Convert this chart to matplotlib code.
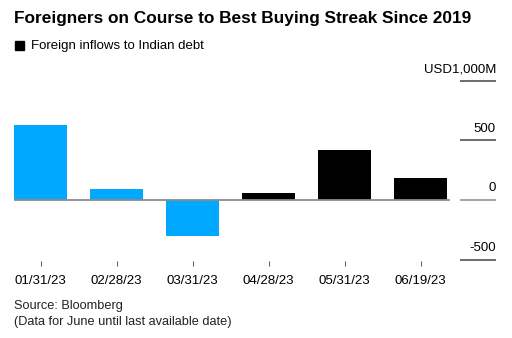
import matplotlib
matplotlib.use("Agg")
import matplotlib.pyplot as plt
from matplotlib.patches import Rectangle

dates = ["01/31/23", "02/28/23", "03/31/23", "04/28/23", "05/31/23", "06/19/23"]
inflows = [630, 92, -303, 56, 418, 182]
bar_colors = ["#00a8ff", "#00a8ff", "#00a8ff", "#000000", "#000000", "#000000"]
yticks = [1000, 500, 0, -500]
ytick_labels = ["USD1,000M", "500", "0", "-500"]

plt.rcParams["font.family"] = ["Liberation Sans", "DejaVu Sans"]

W, H = 512, 338
fig = plt.figure(figsize=(W / 100, H / 100), dpi=100)

# axes placed in pixel terms: left 14, right 496, top 60, bottom 261
left, right, top, bottom = 14, 496, 60, 261
ax = fig.add_axes([left / W, 1 - bottom / H, (right - left) / W, (bottom - top) / H])

px_per_unit = 59.5 / 500
ax.set_ylim(-(bottom - 200) / px_per_unit, (200 - top) / px_per_unit)
ax.set_xlim(-0.35, 5.99)

x = range(len(dates))
ax.bar(x, inflows, width=0.7, color=bar_colors, zorder=2)

# zero line across the plot area
ax.plot([-0.35, 5.39], [0, 0], color="#8c8c8c", lw=1.3, zorder=3, solid_capstyle="butt")

# short gridline segments on the right with labels above them
for v, lab in zip(yticks, ytick_labels):
    c = "#8c8c8c" if v == 0 else "#444444"
    ax.plot([5.52, 5.99], [v, v], color=c, lw=1.1, zorder=3, clip_on=False,
            solid_capstyle="butt")
    ax.annotate(lab, xy=(5.99, v), xytext=(0, 4), textcoords="offset points",
                ha="right", va="bottom", fontsize=9.5, color="#000000")

for s in ax.spines.values():
    s.set_visible(False)
ax.set_yticks([])
ax.set_xticks(list(x))
ax.set_xticklabels(dates, fontsize=9.5)
ax.tick_params(axis="x", length=3.5, width=0.8, color="#666666", pad=6.5)

fig.text(14 / W, 1 - 18 / H, "Foreigners on Course to Best Buying Streak Since 2019",
         fontsize=12.45, fontweight="bold", ha="left", va="center")
fig.patches.append(Rectangle((15 / W, 1 - 50 / H), 9 / W, 9 / H,
                             transform=fig.transFigure, color="black"))
fig.text(31 / W, 1 - 45.5 / H, "Foreign inflows to Indian debt",
         fontsize=9.5, ha="left", va="center")
fig.text(14 / W, 1 - 306 / H, "Source: Bloomberg", fontsize=9.2,
         ha="left", va="center", color="#222222")
fig.text(14 / W, 1 - 322 / H, "(Data for June until last available date)",
         fontsize=9.2, ha="left", va="center", color="#222222")

fig.savefig("out.png", dpi=100)
